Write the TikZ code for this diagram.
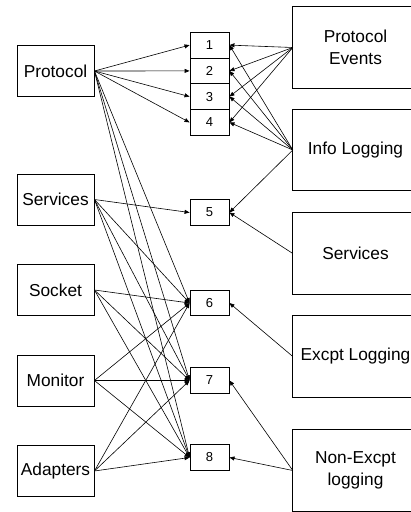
\documentclass[tikz,border=0pt]{standalone}
\usepackage{fontspec}
\setmainfont{Liberation Sans}
\usetikzlibrary{arrows.meta}

\begin{document}
\begin{tikzpicture}[
  x=1pt, y=-1pt,
  src/.style={draw, line width=0.9pt, minimum width=77pt, minimum height=51pt, inner sep=0pt,
    font=\fontsize{17.3}{20}\selectfont},
  num/.style={draw, line width=0.9pt, minimum width=39pt, minimum height=25.5pt, inner sep=0pt,
    font=\fontsize{13}{14}\selectfont},
  sink/.style={minimum width=125pt, minimum height=81pt, inner sep=0pt,
    align=center, font=\fontsize{17.3}{22}\selectfont},
  frame/.style={line width=0.9pt},
  wire/.style={-{Triangle[length=5pt,width=4pt]}, line width=0.6pt}
]
\useasboundingbox (0,0) rectangle (411,512);

% Left column (sources)
\node[src] (lp) at (55.5,71)    {Protocol};
\node[src] (ls) at (55.5,199.5) {Services};
\node[src] (lk) at (55.5,290)   {Socket};
\node[src] (lm) at (55.5,380.5) {Monitor};
\node[src] (la) at (55.5,471)   {Adapters};

% Middle column (numbered slots)
\node[num, minimum height=25.75pt] (m1) at (209.5,45.1)  {1};
\node[num, minimum height=25.75pt] (m2) at (209.5,70.9)  {2};
\node[num, minimum height=25.75pt] (m3) at (209.5,96.6)  {3};
\node[num, minimum height=25.75pt] (m4) at (209.5,122.4) {4};
\node[num] (m5) at (209.5,212.5) {5};
\node[num] (m6) at (209.5,303)   {6};
\node[num] (m7) at (209.5,380.5) {7};
\node[num] (m8) at (209.5,457.5) {8};

% Right column (consumers), boxes run off the right edge
\node[sink] (re) at (355.5,47.5)  {Protocol\\Events};
\node[sink] (ri) at (355.5,150)   {Info Logging};
\node[sink] (rs) at (355.5,253.5) {Services};
\node[sink] (rx) at (355.5,356.5) {Excpt Logging};
\node[sink] (rn) at (355.5,470.5) {Non-Excpt\\logging};
\begin{scope}
  \clip (0,0) rectangle (411,512);
  \draw[frame] (re.north west) rectangle ([xshift=40pt]re.south east);
  \draw[frame] (ri.north west) rectangle ([xshift=40pt]ri.south east);
  \draw[frame] (rs.north west) rectangle ([xshift=40pt]rs.south east);
  \draw[frame] (rx.north west) rectangle ([xshift=40pt]rx.south east);
  \draw[frame] (rn.north west) rectangle ([xshift=40pt]rn.south east);
\end{scope}

% Protocol
\draw[wire] (lp.east) -- (m1.west);
\draw[wire] (lp.east) -- (m2.west);
\draw[wire] (lp.east) -- (m3.west);
\draw[wire] (lp.east) -- (m4.west);
\draw[wire] (lp.east) -- (m6.west);
\draw[wire] (lp.east) -- (m7.west);
\draw[wire] (lp.east) -- (m8.west);

% Services
\draw[wire] (ls.east) -- (m5.west);
\draw[wire] (ls.east) -- (m6.west);
\draw[wire] (ls.east) -- (m7.west);
\draw[wire] (ls.east) -- (m8.west);

% Socket, Monitor, Adapters
\draw[wire] (lk.east) -- (m6.west);
\draw[wire] (lk.east) -- (m7.west);
\draw[wire] (lk.east) -- (m8.west);
\draw[wire] (lm.east) -- (m6.west);
\draw[wire] (lm.east) -- (m7.west);
\draw[wire] (lm.east) -- (m8.west);
\draw[wire] (la.east) -- (m6.west);
\draw[wire] (la.east) -- (m7.west);
\draw[wire] (la.east) -- (m8.west);

% Right side into the slots
\draw[wire] (re.west) -- (m1.east);
\draw[wire] (re.west) -- (m2.east);
\draw[wire] (re.west) -- (m3.east);
\draw[wire] (re.west) -- (m4.east);
\draw[wire] (ri.west) -- (m1.east);
\draw[wire] (ri.west) -- (m2.east);
\draw[wire] (ri.west) -- (m3.east);
\draw[wire] (ri.west) -- (m4.east);
\draw[wire] (ri.west) -- (m5.east);
\draw[wire] (rs.west) -- (m5.east);
\draw[wire] (rx.west) -- (m6.east);
\draw[wire] (rn.west) -- (m7.east);
\draw[wire] (rn.west) -- (m8.east);

\end{tikzpicture}
\end{document}
